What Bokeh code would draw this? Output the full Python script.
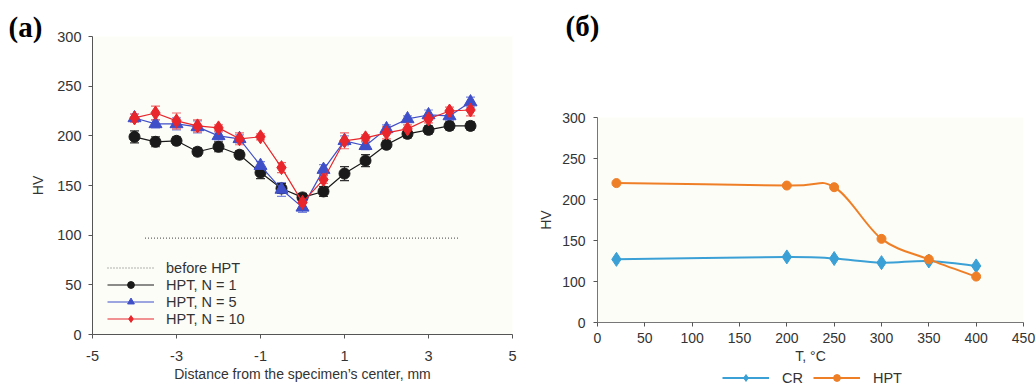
from bokeh.plotting import figure
from bokeh.models import (ColumnDataSource, Whisker, TeeHead, Legend, LegendItem,
                          Title, Label, FixedTicker, Range1d)
from bokeh.layouts import row, column
from bokeh.embed import file_html
from bokeh.resources import INLINE

# ---------------- data: panel (a) ----------------
distance = [-4, -3.5, -3, -2.5, -2, -1.5, -1, -0.5, 0, 0.5, 1, 1.5, 2, 2.5, 3, 3.5, 4]
hv_n1 = [199, 194, 195, 184, 189, 181, 163, 147, 138, 144, 162, 175, 191, 202, 206, 210, 210]
err_n1 = [6, 5, 4, 4, 5, 4, 6, 5, 4, 5, 7, 6, 4, 4, 4, 4, 4]
hv_n5 = [218, 212, 212, 209, 200, 197, 170, 146, 128, 166, 195, 190, 207, 217, 221, 220, 234]
err_n5 = [4, 4, 6, 6, 4, 4, 4, 7, 5, 5, 5, 4, 4, 3, 5, 5, 5]
hv_n10 = [218, 223, 215, 210, 208, 197, 199, 168, 133, 156, 195, 198, 203, 207, 217, 225, 226]
err_n10 = [4, 7, 8, 6, 3, 6, 3, 5, 5, 4, 8, 3, 6, 4, 4, 4, 6]
before_x = [-3.75, 3.75]
before_hv = [97, 97]
x_ticks_a = [-5, -3, -1, 1, 3, 5]
y_ticks_a = [0, 50, 100, 150, 200, 250, 300]

# ---------------- data: panel (б) ----------------
temperature = [20, 200, 250, 300, 350, 400]
hv_cr = [127, 130, 128, 123, 125, 119]
hv_hpt = [220, 217, 215, 152, 127, 106]
x_ticks_b = [0, 50, 100, 150, 200, 250, 300, 350, 400, 450]
y_ticks_b = [50, 100, 150, 200, 250, 300]
y_tick_labels_b = {50: "0"}

FONT = "Liberation Sans"
TXT = "#333333"
AX = "#555555"
BG = "#fdfdf8"


def style_axes(p, tick_size, title_size):
    for ax in (p.xaxis[0], p.yaxis[0]):
        ax.axis_line_color = AX
        ax.major_tick_line_color = AX
        ax.minor_tick_line_color = None
        ax.major_tick_in = 0
        ax.major_tick_out = 4
        ax.major_label_text_font = FONT
        ax.major_label_text_font_size = tick_size
        ax.major_label_text_color = TXT
        ax.axis_label_text_font = FONT
        ax.axis_label_text_font_size = title_size
        ax.axis_label_text_font_style = "normal"
        ax.axis_label_text_color = TXT
    p.xgrid.grid_line_color = None
    p.ygrid.grid_line_color = None
    p.outline_line_color = None


# ================= panel (a) =================
pa = figure(width=520, height=387, output_backend="svg", toolbar_location=None,
            x_range=Range1d(-5, 5), y_range=Range1d(0, 300), frame_align=False,
            min_border_left=92, min_border_right=8, min_border_top=36, min_border_bottom=53,
            background_fill_color=BG, border_fill_color="white")
pa.xaxis.ticker = FixedTicker(ticks=x_ticks_a)
pa.xaxis.major_label_overrides = {t: str(t) for t in x_ticks_a}
pa.yaxis.ticker = FixedTicker(ticks=y_ticks_a)
pa.xaxis.axis_label = "Distance from the specimen\u2019s center, mm"
pa.yaxis.axis_label = "HV"
style_axes(pa, "14.5px", "14px")
pa.xaxis.major_label_standoff = 12
pa.xaxis.axis_label_standoff = 2
pa.yaxis.major_label_standoff = 7
pa.yaxis.axis_label_standoff = 8

r_before = pa.line(before_x, before_hv, line_color="#666666", line_width=1.2, line_dash="1 2")

series = [
    ("HPT, N = 1", hv_n1, err_n1, "#1a1a1a", "#333333", "circle", 11),
    ("HPT, N = 5", hv_n5, err_n5, "#3f4fc8", "#7d89dc", "triangle", 13),
    ("HPT, N = 10", hv_n10, err_n10, "#e8262b", "#f06a6a", "diamond", 14),
]
items = [LegendItem(label="before HPT", renderers=[r_before])]
for label, hv, err, col, ecol, marker, size in series:
    src = ColumnDataSource(dict(x=distance, y=hv,
                                lo=[v - e for v, e in zip(hv, err)],
                                hi=[v + e for v, e in zip(hv, err)]))
    w = Whisker(source=src, base="x", upper="hi", lower="lo", dimension="height",
                line_color=ecol, line_width=1.2,
                upper_head=TeeHead(size=9, line_color=ecol, line_width=1.2),
                lower_head=TeeHead(size=9, line_color=ecol, line_width=1.2))
    pa.add_layout(w)
    rl = pa.line("x", "y", source=src, line_color=col, line_width=1.2)
    rs = pa.scatter("x", "y", source=src, marker=marker, size=size,
                    fill_color=col, line_color=col)
    items.append(LegendItem(label=label, renderers=[rl, rs]))

leg_a = Legend(items=items, location=(15, 7), padding=0, spacing=0, margin=0,
               label_height=17, glyph_height=17, glyph_width=47, label_standoff=12,
               label_text_font=FONT, label_text_font_size="14.5px", label_text_color=TXT,
               background_fill_alpha=0, border_line_color=None)
pa.add_layout(leg_a)

pa.add_layout(Title(text="(a)", align="left", offset=-84, standoff=-12, vertical_align="bottom",
                    text_font="Liberation Serif", text_font_style="bold",
                    text_font_size="29px", text_color="black"), "above")

# ================= panel (б) =================
W_B = 516
# strip holding the panel letter
pb_top = figure(width=W_B, height=50, output_backend="svg", toolbar_location=None,
                x_axis_type=None, y_axis_type=None, x_range=Range1d(0, 1), y_range=Range1d(0, 1),
                min_border=0, frame_align=False, outline_line_color=None,
                background_fill_color="white", border_fill_color="white")
pb_top.xgrid.grid_line_color = None
pb_top.ygrid.grid_line_color = None
pb_top.add_layout(Label(x=45, y=9, x_units="screen", y_units="screen", text="(\u0431)",
                        text_font="Liberation Serif", text_font_style="bold",
                        text_font_size="29px", text_color="black", text_baseline="bottom"))

pb = figure(width=W_B, height=318, output_backend="svg", toolbar_location=None,
            x_range=Range1d(0, 450), y_range=Range1d(50, 300), frame_align=False,
            min_border_left=77, min_border_right=13, min_border_top=67, min_border_bottom=46,
            background_fill_color=BG, border_fill_color="white")
pb.xaxis.ticker = FixedTicker(ticks=x_ticks_b)
pb.yaxis.ticker = FixedTicker(ticks=y_ticks_b)
pb.yaxis.major_label_overrides = y_tick_labels_b
pb.xaxis.axis_label = "T, \u00b0C"
pb.yaxis.axis_label = "HV"
style_axes(pb, "14px", "14px")
pb.xaxis.axis_line_color = "#777777"
pb.yaxis.axis_line_color = "#777777"
pb.xaxis.major_label_standoff = 6
pb.xaxis.axis_label_standoff = 2
pb.yaxis.major_label_standoff = 8
pb.yaxis.axis_label_standoff = 5


def smooth_segments(xs, ys):
    n = len(xs)
    out = dict(x0=[], y0=[], x1=[], y1=[], cx0=[], cy0=[], cx1=[], cy1=[])
    for i in range(n - 1):
        ip = max(i - 1, 0)
        i2 = min(i + 2, n - 1)
        out["x0"].append(xs[i]); out["y0"].append(ys[i])
        out["x1"].append(xs[i + 1]); out["y1"].append(ys[i + 1])
        out["cx0"].append(xs[i] + (xs[i + 1] - xs[ip]) / 6)
        out["cy0"].append(ys[i] + (ys[i + 1] - ys[ip]) / 6)
        out["cx1"].append(xs[i + 1] - (xs[i2] - xs[i]) / 6)
        out["cy1"].append(ys[i + 1] - (ys[i2] - ys[i]) / 6)
    return ColumnDataSource(out)


CR_COL = "#3aa0d5"
HPT_COL = "#ef7f27"
pb.bezier(x0="x0", y0="y0", x1="x1", y1="y1", cx0="cx0", cy0="cy0", cx1="cx1", cy1="cy1",
          source=smooth_segments(temperature, hv_cr), line_color=CR_COL, line_width=2)
pb.scatter(temperature, hv_cr, marker="diamond", size=14, fill_color=CR_COL, line_color=CR_COL)
pb.bezier(x0="x0", y0="y0", x1="x1", y1="y1", cx0="cx0", cy0="cy0", cx1="cx1", cy1="cy1",
          source=smooth_segments(temperature, hv_hpt), line_color=HPT_COL, line_width=2)
pb.scatter(temperature, hv_hpt, marker="circle", size=9, fill_color=HPT_COL, line_color=HPT_COL)

# strip holding the legend below the axis title; its renderers carry the series
# but the strip's ranges keep them out of view, so only the legend samples show
pb_leg = figure(width=W_B, height=19, output_backend="svg", toolbar_location=None,
                x_axis_type=None, y_axis_type=None, x_range=Range1d(0, 1), y_range=Range1d(0, 1),
                min_border=0, frame_align=False, outline_line_color=None,
                background_fill_color="white", border_fill_color="white")
pb_leg.xgrid.grid_line_color = None
pb_leg.ygrid.grid_line_color = None
lg_cr_l = pb_leg.line(temperature, hv_cr, line_color=CR_COL, line_width=2)
lg_cr_m = pb_leg.scatter(temperature, hv_cr, marker="diamond", size=14,
                         fill_color=CR_COL, line_color=CR_COL)
lg_hpt_l = pb_leg.line(temperature, hv_hpt, line_color=HPT_COL, line_width=2)
lg_hpt_m = pb_leg.scatter(temperature, hv_hpt, marker="circle", size=9, fill_color=HPT_COL, line_color=HPT_COL)
leg_b = Legend(items=[LegendItem(label="CR", renderers=[lg_cr_l, lg_cr_m]),
                      LegendItem(label="HPT", renderers=[lg_hpt_l, lg_hpt_m])],
               location=(202, 1), orientation="horizontal", padding=0, spacing=10, margin=0,
               label_height=17, glyph_height=17, glyph_width=47, label_standoff=13,
               label_text_font=FONT, label_text_font_size="14.5px", label_text_color=TXT,
               background_fill_alpha=0, border_line_color=None)
pb_leg.add_layout(leg_b)

layout = row(pa, column(pb_top, pb, pb_leg))
open("out.html", "w").write(file_html(layout, INLINE))
